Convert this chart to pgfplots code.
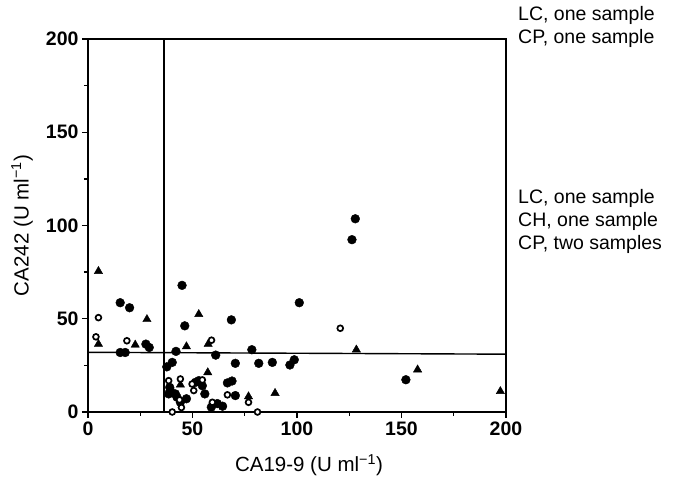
\documentclass[border=0pt]{standalone}
\usepackage{fontspec}
\setmainfont{Liberation Sans}
\usepackage{pgfplots}
\pgfplotsset{compat=1.18}

% CA242 versus CA19-9 (U/ml)
\pgfplotstableread{
x y
15.4 58.6
19.9 55.9
27.7 36.4
29.3 34.6
15.4 31.9
17.8 31.9
45.0 67.9
46.3 46.2
68.6 49.4
42.1 32.5
78.4 33.4
61.1 30.5
70.5 26.1
81.7 26.1
88.2 26.6
37.7 24.2
40.3 26.6
96.6 25.2
98.7 28.0
101.1 58.6
126.3 92.4
127.9 103.6
152.1 17.3
66.7 15.6
68.9 16.6
70.5 8.8
64.4 3.1
61.9 4.5
59.0 2.6
55.9 9.7
51.4 15.9
53.0 16.8
54.7 14.1
39.4 11.5
41.8 9.7
42.6 7.9
44.2 5.2
47.1 7.1
38.6 9.7
39.1 13.2
}\filled
\pgfplotstableread{
x y
5.0 50.6
3.8 40.3
18.6 38.2
59.1 38.5
120.7 44.9
38.6 16.8
44.2 17.7
49.8 15.0
54.7 17.2
50.6 11.5
43.8 6.5
44.7 2.4
40.3 0
81.1 0
66.7 9.2
76.8 5.2
59.5 5.2
}\hollow
\pgfplotstableread{
x y
5.0 75.5
28.2 49.7
5.0 36.4
22.6 36.0
53.0 52.4
47.1 35.1
57.5 36.4
57.3 21.2
44.2 14.6
76.8 8.3
89.5 10.1
128.4 33.4
157.7 22.7
197.3 11.1
}\tri

\begin{document}
\begin{tikzpicture}
\useasboundingbox (-88pt,-66pt) rectangle (587pt,412pt);
\begin{axis}[at={(0pt,0pt)}, anchor=south west,
  scale only axis, width=418pt, height=373pt,
  xmin=0, xmax=200, ymin=0, ymax=200,
  xtick={0,50,...,200}, ytick={0,50,...,200}, minor tick num=1,
  tick pos=left, tick align=outside,
  major tick length=6pt, minor tick length=4pt,
  axis line style={line width=1.8pt},
  tick style={black, line width=1.3pt},
  /pgf/number format/assume math mode=true,
  ticklabel style={font=\fontsize{19.5}{22}\selectfont\bfseries},
  xlabel={CA19-9 (U ml\textsuperscript{−1})},
  ylabel={CA242 (U ml\textsuperscript{−1})},
  xlabel style={font=\fontsize{20.5}{24}\selectfont, at={([xshift=12pt, yshift=-53pt]axis description cs:0.5,0)}, anchor=center},
  ylabel style={font=\fontsize{20.5}{24}\selectfont, at={([xshift=-66pt]axis description cs:0,0.5)}, anchor=center, rotate=0},
  clip=false]
% cut-off lines
\addplot[black, line width=1.4pt] coordinates {(36.3,0) (36.3,200)};
\addplot[black, line width=1.4pt] coordinates {(0,32) (200,31)};
% samples
\addplot[only marks, mark=triangle*, mark size=4.8pt, black] table {\tri};
\addplot[only marks, mark=*, mark size=4.4pt, black] table {\filled};
\addplot[only marks, mark=*, mark size=2.9pt, black, line width=1.7pt, fill=white] table {\hollow};
% off-scale samples
\node[anchor=west, align=left, inner sep=0pt, font=\fontsize{19.5}{23}\selectfont]
  at ([xshift=12pt, yshift=12pt]rel axis cs:1,1) {LC, one sample\\CP, one sample};
\node[anchor=west, align=left, inner sep=0pt, font=\fontsize{19.5}{23}\selectfont]
  at ([xshift=12pt]axis cs:200,102) {LC, one sample\\CH, one sample\\CP, two samples};
\end{axis}
\end{tikzpicture}
\end{document}
